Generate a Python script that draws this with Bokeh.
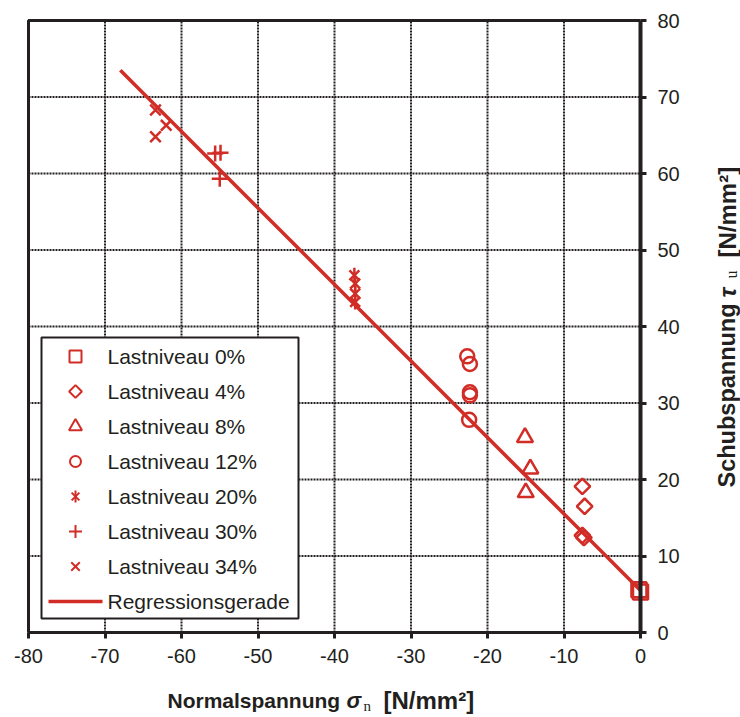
import math

from bokeh.core.properties import value
from bokeh.embed import file_html
from bokeh.models import FixedTicker, Range1d
from bokeh.plotting import figure
from bokeh.resources import INLINE

# Normal stress (x) and shear stress (y) per load level, N/mm²
lv00_x = [-0.2, 0.0]
lv00_y = [5.6, 5.3]
lv04_x = [-7.6, -7.3, -7.6, -7.4]
lv04_y = [19.1, 16.5, 12.7, 12.4]
lv08_x = [-15.1, -14.4, -15.0]
lv08_y = [25.5, 21.4, 18.3]
lv12_x = [-22.65, -22.3, -22.3, -22.3, -22.4]
lv12_y = [36.1, 35.1, 31.4, 31.0, 27.8]
lv20_x = [-37.4, -37.3, -37.3, -37.3]
lv20_y = [46.7, 45.6, 44.3, 43.2]
lv30_x = [-55.6, -54.9, -55.0]
lv30_y = [62.6, 62.7, 59.3]
lv34_x = [-63.4, -62.0, -63.4]
lv34_y = [68.3, 66.3, 64.8]

# Regression line end points
reg_x = [-68.0, 0.0]
reg_y = [73.5, 5.5]

legend_labels = ["Lastniveau 0%", "Lastniveau 4%", "Lastniveau 8%", "Lastniveau 12%",
                 "Lastniveau 20%", "Lastniveau 30%", "Lastniveau 34%", "Regressionsgerade"]

x_ticks = [-80, -70, -60, -50, -40, -30, -20, -10, 0]
y_ticks = [0, 10, 20, 30, 40, 50, 60, 70, 80]
X_MIN, X_MAX = -80, 0
Y_MIN, Y_MAX = 0, 80

RED = "#d12c26"
INK = "#231f20"
FONT = "Liberation Sans"

# canvas and plot-box geometry in pixels (the frame covers the whole canvas,
# the axes sit at fixed locations inside it so the titles can be drawn freely)
W, H = 740, 717
BOX_L, BOX_R, BOX_T, BOX_B = 28, 640, 20, 632
kx = (BOX_R - BOX_L) / (X_MAX - X_MIN)
ky = (BOX_B - BOX_T) / (Y_MAX - Y_MIN)


def dx(px):
    return X_MIN + (px - BOX_L) / kx


def dy(py):
    return Y_MIN + (BOX_B - py) / ky


p = figure(
    width=W, height=H,
    x_range=Range1d(dx(0), dx(W)), y_range=Range1d(dy(H), dy(0)),
    y_axis_location="right",
    output_backend="svg", toolbar_location=None,
    min_border=0, outline_line_color=None,
    background_fill_color="white", border_fill_color="white",
)
p.xgrid.visible = False
p.ygrid.visible = False

# dotted grid
p.segment(x0=x_ticks, y0=[Y_MIN] * len(x_ticks), x1=x_ticks, y1=[Y_MAX] * len(x_ticks),
          line_color=INK, line_width=2, line_dash="2 1")
p.segment(x0=[X_MIN] * len(y_ticks), y0=y_ticks, x1=[X_MAX] * len(y_ticks), y1=y_ticks,
          line_color=INK, line_width=2, line_dash="2 1")
# left and top border of the plot box
p.line([X_MIN, X_MIN, X_MAX], [Y_MIN, Y_MAX, Y_MAX], line_color=INK, line_width=3)

for ax, t, lw, standoff, bounds in ((p.xaxis, x_ticks, 3, 10, (X_MIN, X_MAX)),
                                    (p.yaxis, y_ticks, 4, 11, (Y_MIN, Y_MAX))):
    ax.fixed_location = 0
    ax.bounds = bounds
    ax.ticker = FixedTicker(ticks=t)
    ax.major_label_overrides = {v: str(v) for v in t}
    ax.axis_line_color = INK
    ax.axis_line_width = lw
    ax.major_tick_line_color = INK
    ax.major_tick_line_width = 3
    ax.major_tick_in = 0
    ax.major_tick_out = 6
    ax.minor_tick_line_color = None
    ax.major_label_text_font = FONT
    ax.major_label_text_font_size = "20px"
    ax.major_label_text_color = INK
    ax.major_label_standoff = standoff

# legend frame
LG_L, LG_R, LG_T, LG_B = 41, 298, 337, 618
p.quad(left=dx(LG_L), right=dx(LG_R), top=dy(LG_T), bottom=dy(LG_B),
       fill_color="white", line_color=INK, line_width=2)

# data
mk = dict(fill_color=None, line_color=RED, line_width=2.5)
p.line(reg_x, reg_y, line_color=RED, line_width=3.5)
p.scatter(lv00_x, lv00_y, marker="square", size=15, **mk)
p.scatter(lv04_x, lv04_y, marker="square", size=11, angle=math.pi / 4, **mk)
p.scatter(lv08_x, lv08_y, marker="triangle", size=16, **mk)
p.scatter(lv12_x, lv12_y, marker="circle", size=14, **mk)
p.scatter(lv20_x, lv20_y, marker="x", size=14, **mk)
p.scatter(lv20_x, lv20_y, marker="dash", size=15, angle=math.pi / 2, **mk)
p.scatter(lv30_x, lv30_y, marker="cross", size=16, **mk)
p.scatter(lv34_x, lv34_y, marker="x", size=15, **mk)

# legend entries
ROW0, ROW_STEP, SYM_X, TXT_X = 356, 35, 75, 107
rows = [dy(ROW0 + i * ROW_STEP) for i in range(len(legend_labels))]
sx = dx(SYM_X)
lm = dict(fill_color=None, line_color=RED, line_width=2)
p.scatter([sx], [rows[0]], marker="square", size=12, **lm)
p.scatter([sx], [rows[1]], marker="square", size=9, angle=math.pi / 4, **lm)
p.scatter([sx], [rows[2]], marker="triangle", size=13, **lm)
p.scatter([sx], [rows[3]], marker="circle", size=11, **lm)
p.scatter([sx], [rows[4]], marker="x", size=11, **lm)
p.scatter([sx], [rows[4]], marker="dash", size=12, angle=math.pi / 2, **lm)
p.scatter([sx], [rows[5]], marker="cross", size=13, **lm)
p.scatter([sx], [rows[6]], marker="x", size=12, **lm)
p.line([dx(48), dx(102)], [rows[7], rows[7]], line_color=RED, line_width=3.5)
p.text(x=[dx(TXT_X)] * len(legend_labels), y=rows, text=legend_labels,
       text_font=value(FONT), text_font_size=value("21px"), text_color=INK,
       text_align="left", text_baseline="middle")


def title_part(text, px, py, size="21px", style="bold", font=FONT, angle=0.0):
    p.text(x=[dx(px)], y=[dy(py)], text=[text], angle=angle,
           text_font=value(font), text_font_size=value(size), text_font_style=style,
           text_color=INK, text_align="left", text_baseline="middle")


# x-axis title: Normalspannung σ_n [N/mm²]
title_part("Normalspannung", 167, 700)
title_part("σ", 346, 700, size="22px", style="bold italic")
title_part("n", 363, 705, size="15px", style="normal", font="Liberation Serif")
title_part("[N/mm²]", 383, 700, size="24px")

# y-axis title, rotated: Schubspannung τ_u [N/mm²]
A = math.pi / 2
title_part("Schubspannung", 726.5, 487, size="23.5px", angle=A)
title_part("τ", 726.5, 297, size="24px", style="bold italic", angle=A)
title_part("u", 731, 278, size="16px", style="normal", font="Liberation Serif", angle=A)
title_part("[N/mm²]", 726.5, 257, size="24px", angle=A)

open("out.html", "w").write(file_html(p, INLINE))
